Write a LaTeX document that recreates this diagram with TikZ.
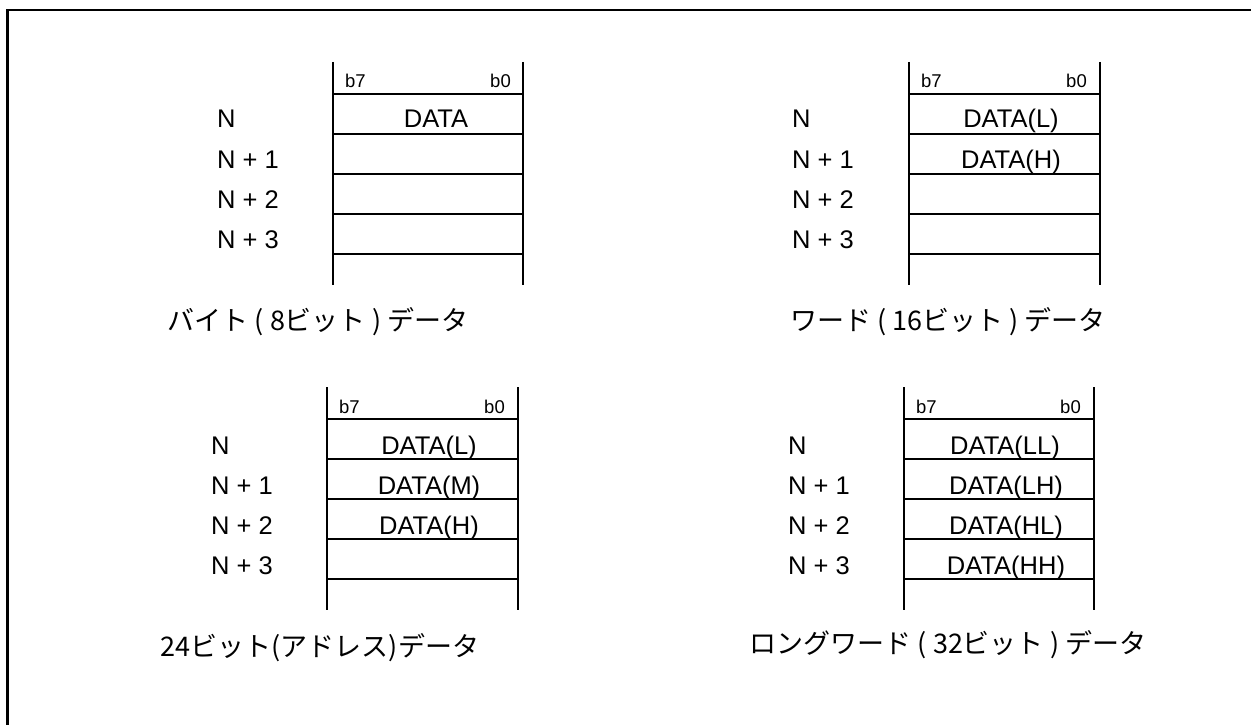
\documentclass[tikz,border=0pt]{standalone}
\usepackage{fontspec}
\setmainfont{Liberation Sans}
\newfontfamily\lblfont{Liberation Sans}
\newfontfamily\cjk{Noto Sans CJK JP}
\begin{document}
\begin{tikzpicture}[x=1pt,y=-1pt,
  lbl/.style={font=\lblfont\fontsize{25.5}{30}\selectfont, inner sep=0pt, anchor=base west},
  dat/.style={font=\lblfont\fontsize{25.5}{30}\selectfont, inner sep=0pt, anchor=base},
  bitl/.style={font=\lblfont\fontsize{18.5}{22}\selectfont, inner sep=0pt, anchor=base west},
  bitr/.style={font=\lblfont\fontsize{18.5}{22}\selectfont, inner sep=0pt, anchor=base east},
  capt/.style={font=\cjk\fontsize{27}{32}\selectfont, inner sep=0pt, anchor=base},
  rule/.style={line width=1.2pt},
  frame/.style={line width=2.6pt, line join=miter}]
\useasboundingbox (0,0) rectangle (1251,725);
\draw[frame] (7.2,725) -- (7.2,10) -- (1251,10);

% ---------- panel 1 : byte ----------
\draw[rule] (333,62) -- (333,285);
\draw[rule] (523,62) -- (523,285);
\foreach \yy in {94,134,174,214,254} \draw[rule] (333,\yy) -- (523,\yy);
\node[bitl] (p1b7) at (345,88) {b7};
\node[bitr] (p1b0) at (511,88) {b0};
\node[lbl] (p1n0) at (217,128) {N};
\node[lbl] (p1n1) at (217,168) {N + 1};
\node[lbl] (p1n2) at (217,208) {N + 2};
\node[lbl] (p1n3) at (217,248) {N + 3};
\node[dat] (p1d0) at (436,128) {DATA};
\node[capt] (p1cap) at (318,330) {バイト ( 8ビット ) データ};

% ---------- panel 2 : word ----------
\draw[rule] (909,62) -- (909,285);
\draw[rule] (1100,62) -- (1100,285);
\foreach \yy in {94,134,174,214,254} \draw[rule] (909,\yy) -- (1100,\yy);
\node[bitl] (p2b7) at (921,88) {b7};
\node[bitr] (p2b0) at (1087,88) {b0};
\node[lbl] (p2n0) at (792,128) {N};
\node[lbl] (p2n1) at (792,168) {N + 1};
\node[lbl] (p2n2) at (792,208) {N + 2};
\node[lbl] (p2n3) at (792,248) {N + 3};
\node[dat] (p2d0) at (1011,128) {DATA(L)};
\node[dat] (p2d1) at (1011,168) {DATA(H)};
\node[capt] (p2cap) at (948,330) {ワード ( 16ビット ) データ};

% ---------- panel 3 : 24 bit ----------
\draw[rule] (327,387) -- (327,610);
\draw[rule] (518,387) -- (518,610);
\foreach \yy in {419,459,499,539,579} \draw[rule] (327,\yy) -- (518,\yy);
\node[bitl] (p3b7) at (339,413) {b7};
\node[bitr] (p3b0) at (505,413) {b0};
\node[lbl] (p3n0) at (211,454) {N};
\node[lbl] (p3n1) at (211,494) {N + 1};
\node[lbl] (p3n2) at (211,534) {N + 2};
\node[lbl] (p3n3) at (211,574) {N + 3};
\node[dat] (p3d0) at (429,454) {DATA(L)};
\node[dat] (p3d1) at (429,494) {DATA(M)};
\node[dat] (p3d2) at (429,534) {DATA(H)};
\node[capt] (p3cap) at (320,656) {24ビット(アドレス)データ};

% ---------- panel 4 : long word ----------
\draw[rule] (904,387) -- (904,610);
\draw[rule] (1094,387) -- (1094,610);
\foreach \yy in {419,459,499,539,579} \draw[rule] (904,\yy) -- (1094,\yy);
\node[bitl] (p4b7) at (916,413) {b7};
\node[bitr] (p4b0) at (1081,413) {b0};
\node[lbl] (p4n0) at (788,454) {N};
\node[lbl] (p4n1) at (788,494) {N + 1};
\node[lbl] (p4n2) at (788,534) {N + 2};
\node[lbl] (p4n3) at (788,574) {N + 3};
\node[dat] (p4d0) at (1005,454) {DATA(LL)};
\node[dat] (p4d1) at (1006,494) {DATA(LH)};
\node[dat] (p4d2) at (1006,534) {DATA(HL)};
\node[dat] (p4d3) at (1006,574) {DATA(HH)};
\node[capt] (p4cap) at (948,653) {ロングワード ( 32ビット ) データ};
\end{tikzpicture}
\end{document}
